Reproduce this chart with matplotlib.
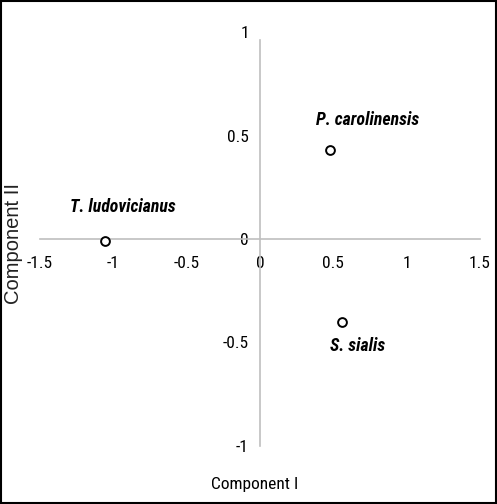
import matplotlib
matplotlib.use("Agg")
import matplotlib.pyplot as plt
from matplotlib.patches import Rectangle

# PCA scores
species = ["T. ludovicianus", "P. carolinensis", "S. sialis"]
comp1 = [-1.055, 0.48, 0.56]
comp2 = [-0.01, 0.43, -0.40]
label_offsets = [(18, 34), (37, 30), (15, -24)]  # px, label centre relative to point

x_ticks = [-1.5, -1, -0.5, 0, 0.5, 1, 1.5]
y_ticks = [-1, -0.5, 0, 0.5, 1]

plt.rcParams['font.family'] = ['Roboto Condensed', 'Liberation Sans', 'DejaVu Sans']

fig = plt.figure(figsize=(4.97, 5.04), dpi=100)
ax = fig.add_axes([40 / 497, 1 - 446 / 504, 440 / 497, 414 / 504])

ax.scatter(comp1, comp2, s=40, facecolors='white', edgecolors='black', linewidths=1.4, zorder=3)
for name, x, y, (dx, dy) in zip(species, comp1, comp2, label_offsets):
    ax.annotate(name, (x, y), xytext=(dx * 0.72, dy * 0.72), textcoords='offset points',
                ha='center', va='center', fontsize=12.8, fontweight='bold', fontstyle='italic')

ax.set_xlim(-1.5, 1.5)
ax.set_ylim(-1, 1)
ax.set_xticks(x_ticks)
ax.set_yticks(y_ticks)
ax.set_xticklabels([f"{v:g}" for v in x_ticks])
ax.set_yticklabels([f"{v:g}" for v in y_ticks])

for side in ['top', 'right']:
    ax.spines[side].set_visible(False)
for side in ['left', 'bottom']:
    ax.spines[side].set_position('zero')
    ax.spines[side].set_color('#BFBFBF')
    ax.spines[side].set_linewidth(1.2)
ax.spines['left'].set_bounds(-1, 0.96)
ax.tick_params(length=0, labelsize=12.5)
ax.tick_params(axis='x', pad=12)
ax.tick_params(axis='y', pad=8)
ax.patch.set_visible(False)

fig.text(255 / 497, 1 - 485 / 504, "Component I", ha='center', va='center', fontsize=12.5)
fig.text(14 / 497, 1 - 243 / 504, "Component II", ha='center', va='center', rotation=90,
         fontsize=14.5, family='Liberation Sans', color='#222222')

fig.patches.append(Rectangle((0.002, 0.002), 0.996, 0.996, transform=fig.transFigure,
                             fill=False, edgecolor='black', linewidth=1.5))

fig.savefig("out.png", dpi=100)
